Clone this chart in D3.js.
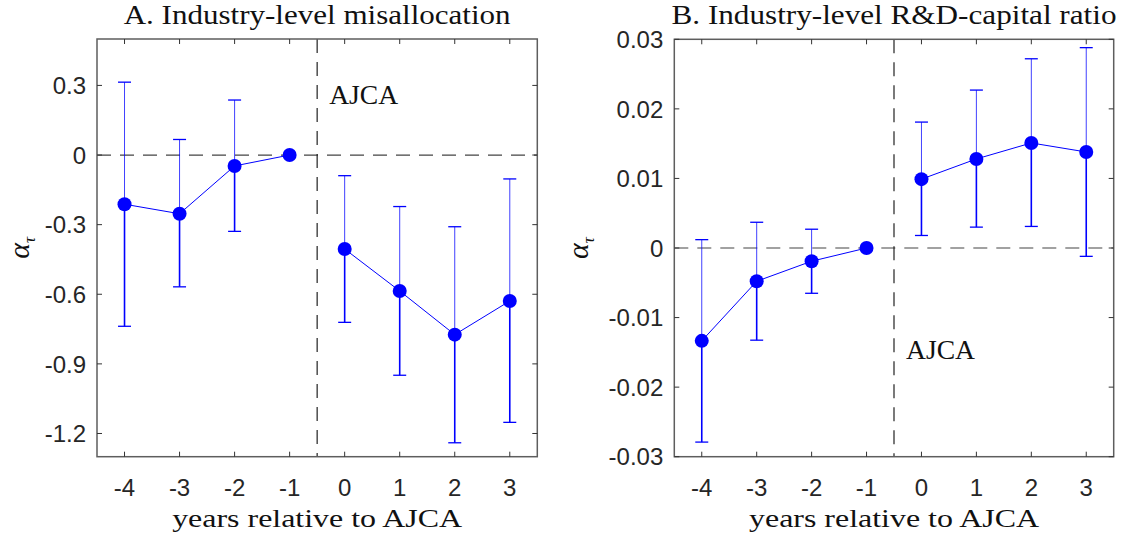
<!DOCTYPE html>
<html lang="en">
<head>
<meta charset="utf-8">
<title>AJCA event study</title>
<script src="https://d3js.org/d3.v7.min.js"></script>
<style>
  body { margin: 0; background: #fff; }
  svg { display: block; }
  .tick-label { font-family: "Liberation Sans", Arial, sans-serif; font-size: 24px; fill: #262626; }
  .serif { font-family: "Liberation Serif", "Times New Roman", serif; fill: #111; }
</style>
</head>
<body>
<div id="chart"></div>
<script>
// event time (years relative to AJCA)
const years = [-4, -3, -2, -1, 0, 1, 2, 3];

// panel A: industry-level misallocation
const misCoef = [-0.212, -0.253, -0.047, 0, -0.405, -0.586, -0.774, -0.629];
const misLow  = [-0.738, -0.568, -0.329, 0, -0.721, -0.949, -1.240, -1.152];
const misHigh = [ 0.314,  0.067,  0.237, 0, -0.089, -0.222, -0.309, -0.103];
const misTicks = [-1.2, -0.9, -0.6, -0.3, 0, 0.3];

// panel B: industry-level R&D-capital ratio
const rdCoef = [-0.01335, -0.00478, -0.0019, 0, 0.0099, 0.0128, 0.0151, 0.0138];
const rdLow  = [-0.0279, -0.01325, -0.00651, 0, 0.0018, 0.0030, 0.0031, -0.0012];
const rdHigh = [ 0.0012,  0.0037,  0.0027, 0, 0.0181, 0.0227, 0.0272, 0.0288];
const rdTicks = [-0.03, -0.02, -0.01, 0, 0.01, 0.02, 0.03];

const W = 1125, H = 539;
const blue = "#0000ff";

const svg = d3.select("#chart").append("svg")
    .attr("width", W)
    .attr("height", H);

function drawPanel(p) {
  const x = d3.scaleLinear().domain([-4.5, 3.5]).range([p.left, p.right]);
  const y = d3.scaleLinear().domain(p.yDomain).range([p.bottom, p.top]);
  const g = svg.append("g");

  // zero line and event line
  g.append("line")
    .attr("x1", p.left).attr("x2", p.right)
    .attr("y1", y(0)).attr("y2", y(0))
    .attr("stroke", "#444").attr("stroke-width", 1.2)
    .attr("stroke-dasharray", "14,9");
  g.append("line")
    .attr("x1", x(-0.5)).attr("x2", x(-0.5))
    .attr("y1", p.top).attr("y2", p.bottom)
    .attr("stroke", "#222").attr("stroke-width", 1.2)
    .attr("stroke-dasharray", "14,9");

  // box + inward ticks
  g.append("rect")
    .attr("x", p.left).attr("y", p.top)
    .attr("width", p.right - p.left).attr("height", p.bottom - p.top)
    .attr("fill", "none").attr("stroke", "#5e5e5e").attr("stroke-width", 1.5);

  const tl = 5;
  years.forEach(function(v) {
    g.append("line").attr("x1", x(v)).attr("x2", x(v))
      .attr("y1", p.bottom).attr("y2", p.bottom - tl)
      .attr("stroke", "#333").attr("stroke-width", 1);
    g.append("line").attr("x1", x(v)).attr("x2", x(v))
      .attr("y1", p.top).attr("y2", p.top + tl)
      .attr("stroke", "#333").attr("stroke-width", 1);
    g.append("text").attr("class", "tick-label")
      .attr("x", x(v)).attr("y", 496)
      .attr("text-anchor", "middle")
      .text(String(v));
  });
  p.ticks.forEach(function(v) {
    g.append("line").attr("x1", p.left).attr("x2", p.left + tl)
      .attr("y1", y(v)).attr("y2", y(v))
      .attr("stroke", "#333").attr("stroke-width", 1);
    g.append("line").attr("x1", p.right).attr("x2", p.right - tl)
      .attr("y1", y(v)).attr("y2", y(v))
      .attr("stroke", "#333").attr("stroke-width", 1);
    g.append("text").attr("class", "tick-label")
      .attr("x", p.left - 11).attr("y", y(v))
      .attr("dy", "0.36em")
      .attr("text-anchor", "end")
      .text(v === 0 ? "0" : String(v));
  });

  // error bars
  const rows = years.map(function(t, i) {
    return { t: t, c: p.coef[i], lo: p.low[i], hi: p.high[i] };
  });
  const bars = rows.filter(function(d) { return d.hi !== d.lo; });
  g.selectAll(null).data(bars).enter().append("line")
    .attr("x1", d => x(d.t)).attr("x2", d => x(d.t))
    .attr("y1", d => y(d.hi)).attr("y2", d => y(d.c))
    .attr("stroke", blue).attr("stroke-opacity", 0.75).attr("stroke-width", 1);
  g.selectAll(null).data(bars).enter().append("line")
    .attr("x1", d => x(d.t)).attr("x2", d => x(d.t))
    .attr("y1", d => y(d.c)).attr("y2", d => y(d.lo))
    .attr("stroke", blue).attr("stroke-width", 1.6);
  ["hi", "lo"].forEach(function(k) {
    g.selectAll(null).data(bars).enter().append("line")
      .attr("x1", d => x(d.t) - 6.5).attr("x2", d => x(d.t) + 6.5)
      .attr("y1", d => y(d[k])).attr("y2", d => y(d[k]))
      .attr("stroke", blue).attr("stroke-width", 1.3);
  });

  // connecting lines, pre and post separately
  const line = d3.line().x(d => x(d.t)).y(d => y(d.c));
  [rows.filter(d => d.t < 0), rows.filter(d => d.t >= 0)].forEach(function(seg) {
    g.append("path").datum(seg)
      .attr("d", line)
      .attr("fill", "none")
      .attr("stroke", blue).attr("stroke-width", 1);
  });

  g.selectAll(null).data(rows).enter().append("circle")
    .attr("cx", d => x(d.t)).attr("cy", d => y(d.c))
    .attr("r", 7).attr("fill", blue);

  // annotation
  g.append("text").attr("class", "serif")
    .attr("x", x(-0.5) + 12).attr("y", y(p.noteY))
    .attr("font-size", 27)
    .attr("textLength", 69).attr("lengthAdjust", "spacingAndGlyphs")
    .text("AJCA");

  // title
  g.append("text").attr("class", "serif")
    .attr("x", (p.left + p.right) / 2).attr("y", 24)
    .attr("text-anchor", "middle")
    .attr("font-size", 26.5)
    .attr("textLength", p.titleLen).attr("lengthAdjust", "spacingAndGlyphs")
    .text(p.title);

  // x label
  g.append("text").attr("class", "serif")
    .attr("x", (p.left + p.right) / 2).attr("y", 527)
    .attr("text-anchor", "middle")
    .attr("font-size", 26)
    .attr("textLength", 290).attr("lengthAdjust", "spacingAndGlyphs")
    .text("years relative to AJCA");

  // y label
  const yl = g.append("text").attr("class", "serif")
    .attr("transform", "translate(" + p.ylabX + "," + (p.top + p.bottom) / 2 + ") rotate(-90)")
    .attr("text-anchor", "middle")
    .attr("font-size", 30)
    .attr("font-style", "italic");
  yl.append("tspan").text("α");
  yl.append("tspan").attr("font-size", 17).attr("dy", 6).text("τ");
}

drawPanel({
  left: 97, right: 537.3, top: 39, bottom: 456.7,
  yDomain: [-1.3, 0.5], ticks: misTicks,
  coef: misCoef, low: misLow, high: misHigh,
  noteY: 0.22, ylabX: 29,
  title: "A. Industry-level misallocation", titleLen: 387
});

drawPanel({
  left: 674.3, right: 1113.7, top: 39.3, bottom: 456.7,
  yDomain: [-0.03, 0.03], ticks: rdTicks,
  coef: rdCoef, low: rdLow, high: rdHigh,
  noteY: -0.016, ylabX: 588,
  title: "B. Industry-level R&D-capital ratio", titleLen: 445
});
</script>
</body>
</html>
